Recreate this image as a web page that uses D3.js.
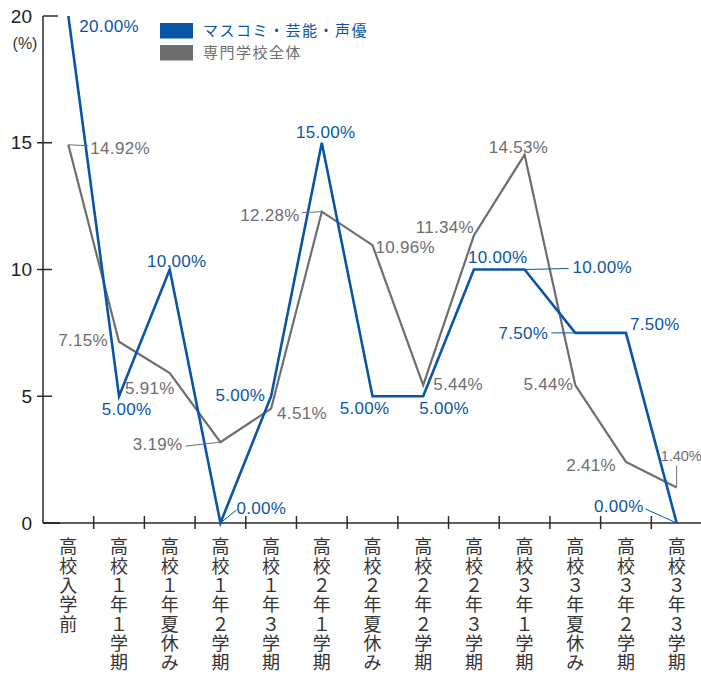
<!DOCTYPE html>
<html><head><meta charset="utf-8">
<script src="https://cdn.jsdelivr.net/npm/d3@7"></script>
<style>
html,body{margin:0;padding:0;background:#fff;}
svg{display:block;}
</style>
</head><body>
<svg id="c" width="701" height="675"></svg>
<script>
// ---- data ----
const categories = ["高校入学前","高校１年１学期","高校１年夏休み","高校１年２学期","高校１年３学期","高校２年１学期","高校２年夏休み","高校２年２学期","高校２年３学期","高校３年１学期","高校３年夏休み","高校３年２学期","高校３年３学期"];
const seriesNames = ["マスコミ・芸能・声優","専門学校全体"];
const massComi = [20, 5, 10, 0, 5, 15, 5, 5, 10, 10, 7.5, 7.5, 0];
const allSchools = [14.92, 7.15, 5.91, 3.19, 4.51, 12.28, 10.96, 5.44, 11.34, 14.53, 5.44, 2.41, 1.40];
const yTicks = [0, 5, 10, 15, 20];

// ---- label placement (style) ----
// [dx, dy, anchor, leaderEnd(dx,dy) or null]
const blueLabelPos = [
  [11, 10, "start", null],
  [7.5, 13, "middle", null],
  [7, -9, "middle", null],
  [16, -15, "start", [16, -13]],
  [-6, -1, "end", null],
  [4, -11, "middle", null],
  [-8, 12, "middle", null],
  [-4, 12, "start", null],
  [-6, -13, "start", null],
  [48, -3, "start", [44, -1]],
  [-27, 0, "end", [-24, 0]],
  [4, -9, "start", null],
  [-33, -17, "end", [-31, -14]]
];
const grayLabelPos = [
  [22, 3, "start", [20, 1]],
  [-11, -2, "end", null],
  [5, 15, "end", null],
  [-38, 2, "end", [-35, 4]],
  [6, 4, "start", null],
  [-22, 3, "end", [-20, 1]],
  [3, 2, "start", null],
  [10, -1, "start", null],
  [0, -9, "end", null],
  [-6, -8, "middle", null],
  [-2, -1, "end", null],
  [-10, 3, "end", null],
  [-16, -32, "start", [0, -22]]
];

const blue = "#0a56a6";
const gray = "#6e6e71";
const axisColor = "#2b2b2b";

const svg = d3.select("#c");
const x = d3.scaleBand().domain(categories).range([43, 702]).padding(0);
const y = d3.scaleLinear().domain([0, 20]).range([523, 16]);
const cx = c => x(c) + x.bandwidth() / 2;

// axes
const ax = svg.append("g").attr("stroke", axisColor).attr("stroke-width", 1.5).attr("fill", "none");
ax.append("line").attr("x1", 43).attr("x2", 43).attr("y1", y(20)).attr("y2", y(0));
ax.append("line").attr("x1", 43).attr("x2", 702).attr("y1", y(0)).attr("y2", y(0));
yTicks.forEach(t => {
  if (t === 0) return;
  if (t === 20) ax.append("line").attr("x1", 43).attr("x2", 58).attr("y1", y(t)).attr("y2", y(t));
  else ax.append("line").attr("x1", 37).attr("x2", 52).attr("y1", y(t)).attr("y2", y(t));
});
ax.append("line").attr("x1", 43).attr("x2", 60).attr("y1", y(0)).attr("y2", y(0)).attr("stroke-width", 2);
categories.forEach(c => {
  const xr = x(c) + x.bandwidth();
  ax.append("line").attr("x1", xr).attr("x2", xr).attr("y1", y(0) - 7).attr("y2", y(0) + 6);
});

// y tick labels
svg.append("g").selectAll("text").data(yTicks).join("text")
  .attr("x", 32).attr("y", d => y(d)).attr("dy", "0.35em")
  .attr("text-anchor", "end")
  .attr("font-family", "Liberation Sans, Arial, sans-serif").attr("font-size", 19)
  .attr("fill", "#222").text(d => d);
svg.append("text").attr("x", 25).attr("y", 43).attr("dy", "0.35em").attr("text-anchor", "middle")
  .attr("font-family", "Liberation Sans, Arial, sans-serif").attr("font-size", 16).attr("fill", "#333").text("(%)");

// category labels (vertical, stacked characters)
const catG = svg.append("g").attr("font-family", "Noto Sans CJK JP, sans-serif").attr("font-size", 18).attr("fill", "#333");
categories.forEach(c => {
  const t = catG.append("text").attr("text-anchor", "middle");
  [...c].forEach((ch, i) => {
    t.append("tspan").attr("x", cx(c)).attr("y", 547 + i * 19.3).attr("dy", "0.36em").text(ch);
  });
});

// lines
const line = d3.line().x((d, i) => cx(categories[i])).y(d => y(d));
svg.append("path").datum(allSchools).attr("d", line).attr("fill", "none")
  .attr("stroke", gray).attr("stroke-width", 2.2).attr("stroke-linejoin", "miter");
svg.append("path").datum(massComi).attr("d", line).attr("fill", "none")
  .attr("stroke", blue).attr("stroke-width", 2.6).attr("stroke-linejoin", "miter");

// labels
function drawLabels(vals, pos, color) {
  const g = svg.append("g").attr("font-family", "Liberation Sans, Arial, sans-serif").attr("font-size", 17).attr("fill", color);
  vals.forEach((v, i) => {
    const px = cx(categories[i]), py = y(v);
    const p = pos[i];
    if (p[3]) {
      g.append("line").attr("x1", px).attr("y1", py).attr("x2", px + p[3][0]).attr("y2", py + p[3][1])
        .attr("stroke", color).attr("stroke-width", 1);
    }
    const t = g.append("text").attr("x", px + p[0]).attr("y", py + p[1]).attr("dy", "0.36em")
      .attr("text-anchor", p[2]).attr("letter-spacing", 0.3).text(v.toFixed(2) + "%");
    if (i === vals.length - 1 && color === gray) t.attr("font-size", 14.5).attr("letter-spacing", 0);
  });
}
drawLabels(allSchools, grayLabelPos, gray);
drawLabels(massComi, blueLabelPos, blue);

// legend
const lg = svg.append("g");
[blue, gray].forEach((col, i) => {
  lg.append("rect").attr("x", 160).attr("y", 23 + i * 22).attr("width", 33).attr("height", 15.5).attr("fill", col);
  lg.append("text").attr("x", 203).attr("y", 31 + i * 22).attr("dy", "0.36em")
    .attr("font-family", "Noto Sans CJK JP, sans-serif").attr("font-size", 15).attr("letter-spacing", 1.5)
    .attr("fill", col).text(seriesNames[i]);
});
</script>
</body></html>
